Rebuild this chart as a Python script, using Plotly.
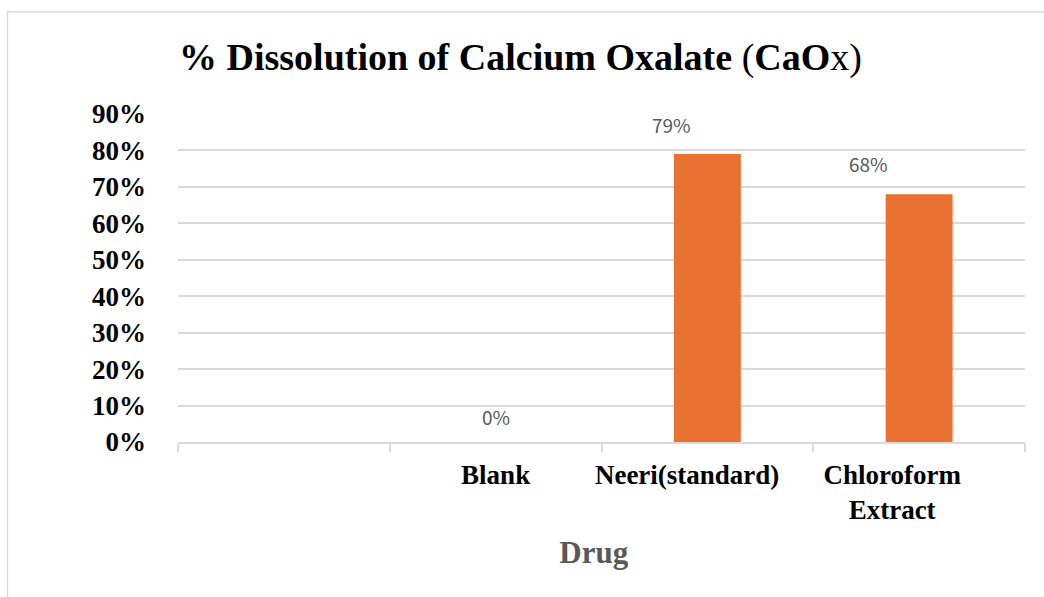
import plotly.graph_objects as go

# Dissolution results per drug (fraction of CaOx dissolved)
categories = ["", "Blank", "Neeri(standard)", "Chloroform Extract"]
tick_labels = ["", "Blank", "Neeri(standard)" + "&nbsp;" * 6,
               "Chloroform" + "&nbsp;" * 8 + "<br>Extract" + "&nbsp;" * 8]
dissolution = [None, 0.0, 0.79, 0.68]
label_shift_x = [0, 0, -36, -51]
label_shift_y = [0, 26, 30, 31]

y_ticks = [0, 0.1, 0.2, 0.3, 0.4, 0.5, 0.6, 0.7, 0.8, 0.9]

SERIF = "Liberation Serif, Times New Roman, serif"
GRID = "#D9D9D9"
ORANGE = "#E97132"

fig = go.Figure()
fig.add_trace(go.Bar(
    x=categories,
    y=dissolution,
    marker=dict(color=ORANGE, line=dict(width=0)),
    width=0.316,
    hoverinfo="skip",
))

# Data labels for each value
for cat, val, dx, dy in zip(categories, dissolution, label_shift_x, label_shift_y):
    if val is None:
        continue
    fig.add_annotation(
        x=cat, y=val, xref="x", yref="y",
        text=f"{val:.0%}",
        showarrow=False,
        xshift=dx, yshift=dy,
        font=dict(family="Noto Sans CJK SC, DejaVu Sans Mono, monospace",
                  size=19, color="#595959"),
    )

# Chart outline
fig.add_shape(
    type="rect", xref="paper", yref="paper",
    x0=(7.5 - 178) / 847, x1=1.2,
    y0=-0.7, y1=(441.7 - 11.5) / 328,
    line=dict(color=GRID, width=1.5),
    fillcolor="rgba(0,0,0,0)",
    layer="below",
)

fig.update_layout(
    width=1044,
    height=597,
    margin=dict(l=178, r=19, t=114, b=155, autoexpand=False),
    paper_bgcolor="white",
    plot_bgcolor="white",
    showlegend=False,
    bargap=0.684,
    title=dict(
        text="<b>% Dissolution of Calcium Oxalate </b>(<b>CaO</b>x)",
        font=dict(family=SERIF, size=38, color="black"),
        x=179 / 1044, xref="container", xanchor="left",
        y=1 - 57 / 597, yref="container", yanchor="middle",
    ),
    xaxis=dict(
        categoryorder="array",
        categoryarray=categories,
        tickmode="array",
        tickvals=categories,
        ticktext=tick_labels,
        tickangle=0,
        automargin=False,
        tickson="boundaries",
        ticks="outside",
        ticklen=8,
        tickwidth=1.5,
        tickcolor=GRID,
        showline=True,
        linecolor=GRID,
        linewidth=1.5,
        showgrid=False,
        ticklabelstandoff=8,
        tickfont=dict(family=SERIF, size=27, color="black", weight="bold"),
        title=dict(
            text="<b>Drug&nbsp;&nbsp;</b>",
            font=dict(family=SERIF, size=31, color="#595959"),
            standoff=17,
        ),
    ),
    yaxis=dict(
        range=[0, 0.9],
        tickmode="array",
        tickvals=y_ticks,
        ticktext=[f"<b>{v:.0%}</b>" for v in y_ticks],
        automargin=False,
        showgrid=True,
        gridcolor=GRID,
        gridwidth=1.5,
        zeroline=False,
        showline=False,
        ticks="",
        ticklabelstandoff=31,
        tickfont=dict(family=SERIF, size=27, color="black"),
    ),
)

fig.write_html("out.html")
